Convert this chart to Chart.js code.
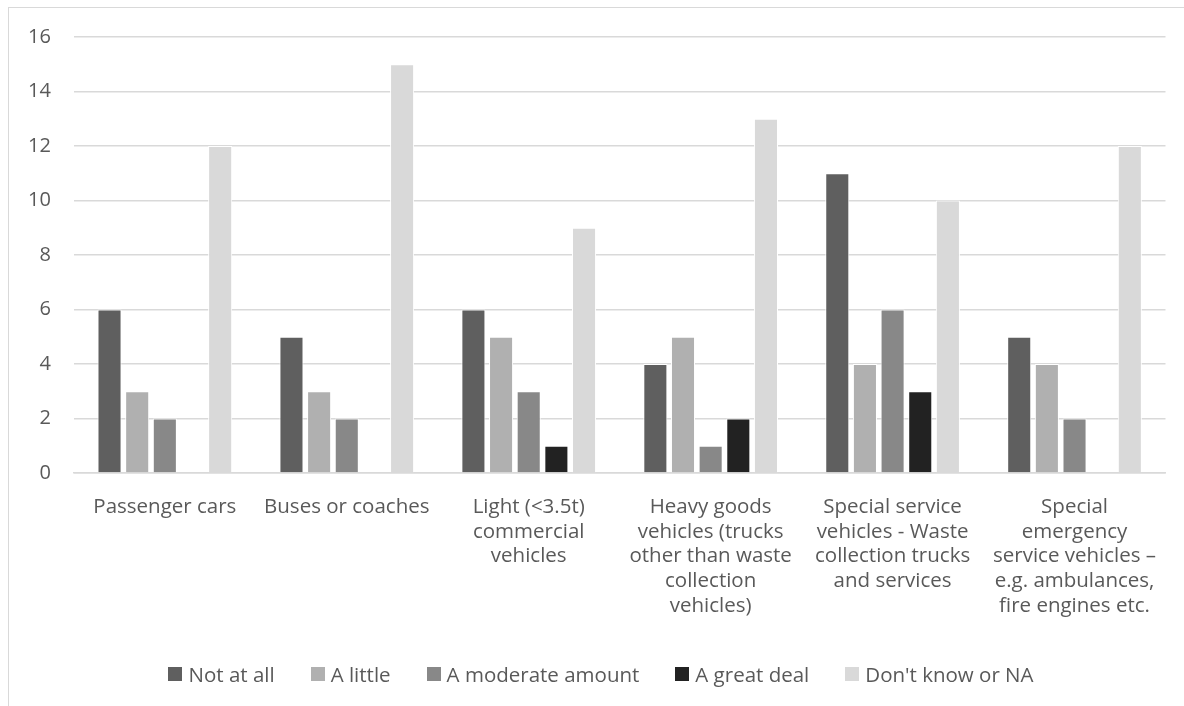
<!DOCTYPE html>
<html>
<head>
<meta charset="utf-8">
<script src="https://cdn.jsdelivr.net/npm/chart.js@4.4.1/dist/chart.umd.min.js"></script>
<style>
  html, body { margin: 0; padding: 0; background: #fff; overflow: hidden; }
  #frame {
    position: absolute; left: 8px; top: 7px; width: 1176px; height: 699px;
    border-top: 1.5px solid #d9d9d9; border-left: 1.5px solid #d9d9d9;
    box-sizing: border-box;
  }
  #chart-box {
    position: absolute; left: 9.5px; top: 2px; width: 1174.5px; height: 704px;
  }
  #legend-container {
    position: absolute; left: -4px; width: 1210px; top: 660px;
  }
</style>
</head>
<body>
<div id="frame"></div>
<div id="chart-box"><canvas id="chart"></canvas></div>
<div id="legend-container"></div>
<script>
// categories (already split into lines the way the original wraps them)
const categories = [
  ["Passenger cars"],
  ["Buses or coaches"],
  ["Light (<3.5t)", "commercial", "vehicles"],
  ["Heavy goods", "vehicles (trucks", "other than waste", "collection", "vehicles)"],
  ["Special service", "vehicles - Waste", "collection trucks", "and services"],
  ["Special", "emergency", "service vehicles –", "e.g. ambulances,", "fire engines etc."]
];
const seriesNames = ["Not at all", "A little", "A moderate amount", "A great deal", "Don't know or NA"];
const notAtAll  = [6, 5, 6, 4, 11, 5];
const aLittle   = [3, 3, 5, 5, 4, 4];
const moderate  = [2, 2, 3, 1, 6, 2];
const greatDeal = [0, 0, 1, 2, 3, 0];
const dontKnow  = [12, 15, 9, 13, 10, 12];
const yTicks = [0, 2, 4, 6, 8, 10, 12, 14, 16];

const colors = ["#5f5f5f", "#b0b0b0", "#888888", "#222222", "#d9d9d9"];
const allValues = [notAtAll, aLittle, moderate, greatDeal, dontKnow];

const textColor = "#595959";
const fontFamily = "'Open Sans', sans-serif";

const datasets = allValues.map((vals, i) => ({
  label: seriesNames[i],
  data: vals,
  backgroundColor: colors[i],
  borderColor: "#ffffff",
  borderWidth: 1,
  borderSkipped: "bottom",
  barPercentage: 0.87,
  categoryPercentage: 0.76
}));

// legend drawn as html so spacing can follow the original
const htmlLegendPlugin = {
  id: 'htmlLegend',
  afterUpdate(chart, args, options) {
    const box = document.getElementById(options.containerID);
    box.innerHTML = '';
    const ul = document.createElement('ul');
    ul.style.display = 'flex';
    ul.style.justifyContent = 'center';
    ul.style.margin = 0;
    ul.style.padding = 0;
    ul.style.listStyle = 'none';
    box.appendChild(ul);

    const items = chart.options.plugins.legend.labels.generateLabels(chart);
    items.forEach((item, index) => {
      const li = document.createElement('li');
      li.style.display = 'flex';
      li.style.alignItems = 'center';
      li.style.marginLeft = index === 0 ? '0' : '36px';

      const swatch = document.createElement('span');
      swatch.style.display = 'inline-block';
      swatch.style.width = '14px';
      swatch.style.height = '14px';
      swatch.style.background = item.fillStyle;
      swatch.style.marginRight = '6px';

      const txt = document.createElement('span');
      txt.style.color = textColor;
      txt.style.font = "20.5px " + fontFamily;
      txt.style.lineHeight = '28px';
      txt.textContent = item.text;

      li.appendChild(swatch);
      li.appendChild(txt);
      ul.appendChild(li);
    });
  }
};

new Chart(document.getElementById("chart"), {
  type: "bar",
  data: { labels: categories, datasets: datasets },
  options: {
    responsive: true,
    maintainAspectRatio: false,
    animation: false,
    layout: { padding: { left: -5, top: 0, right: 19, bottom: 66 } },
    scales: {
      x: {
        grid: { display: false, drawTicks: false },
        border: { display: true, color: "#d9d9d9", width: 1.5 },
        ticks: {
          color: textColor,
          font: { family: fontFamily, size: 20.5, lineHeight: 1.2 },
          padding: 22,
          maxRotation: 0,
          minRotation: 0,
          autoSkip: false
        }
      },
      y: {
        min: 0,
        max: 16,
        afterBuildTicks: (axis) => { axis.ticks = yTicks.map(v => ({ value: v })); },
        grid: { color: "#d9d9d9", lineWidth: 1.5, drawTicks: false },
        border: { display: false },
        ticks: {
          color: textColor,
          font: { family: fontFamily, size: 20 },
          padding: 23
        }
      }
    },
    plugins: {
      htmlLegend: { containerID: 'legend-container' },
      legend: { display: false },
      tooltip: { enabled: false }
    }
  },
  plugins: [htmlLegendPlugin]
});
</script>
</body>
</html>
